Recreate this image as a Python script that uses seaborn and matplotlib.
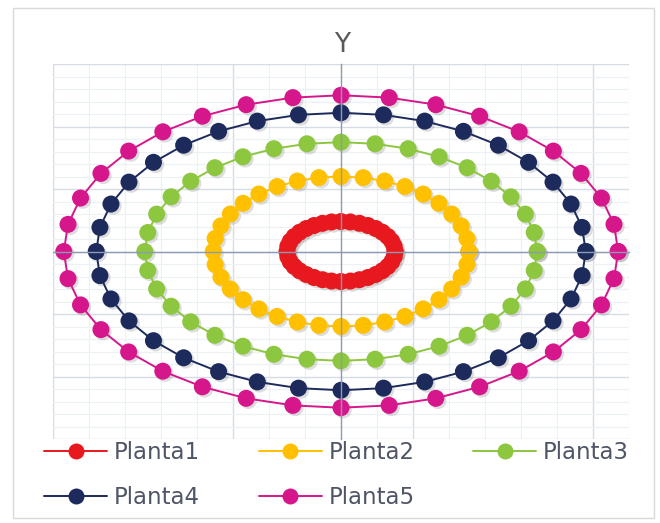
import numpy as np
import pandas as pd
import matplotlib
matplotlib.use("Agg")
import matplotlib.pyplot as plt
import matplotlib.patheffects as pe
from matplotlib.lines import Line2D
from matplotlib.patches import Rectangle
from matplotlib.ticker import MultipleLocator, FixedLocator
import seaborn as sns

# Series: one ellipse per plant, sampled every 10 degrees
SERIES = ["Planta1", "Planta2", "Planta3", "Planta4", "Planta5"]
SEMI_X = [1.5, 3.55, 5.45, 6.8, 7.7]
SEMI_Y = [2.4, 6.0, 8.75, 11.1, 12.5]
ANGLES_DEG = list(range(0, 361, 10))
COLORS = ["#E8191E", "#FFC000", "#8DC63F", "#1D2A5C", "#D6168B"]
TITLE = "Y"

rows = []
for name, a, b in zip(SERIES, SEMI_X, SEMI_Y):
    t = np.radians(ANGLES_DEG)
    for ti in t:
        rows.append({"serie": name, "x": a * np.cos(ti), "y": b * np.sin(ti)})
df = pd.DataFrame(rows)

sns.set_style("white")
plt.rcParams["font.family"] = ["DejaVu Sans"]
TEXT = "#4E5566"

W, H = 660, 523
fig = plt.figure(figsize=(W / 100, H / 100), dpi=100)
ax = fig.add_axes([53 / W, 1 - 439 / H, 576 / W, 375 / H])

ax.set_xlim(-8, 8)
ax.set_ylim(-15, 15)

# gridlines: major and minor
ax.xaxis.set_major_locator(FixedLocator([-8, -3, 2, 7]))
ax.xaxis.set_minor_locator(MultipleLocator(1))
ax.yaxis.set_major_locator(MultipleLocator(5))
ax.yaxis.set_minor_locator(MultipleLocator(1))
ax.grid(which="minor", color="#EDF0F5", linewidth=0.9)
ax.grid(which="major", color="#D5DCE6", linewidth=1.0)
ax.set_axisbelow(True)

shadow = [pe.SimplePatchShadow(offset=(1.6, -1.6), shadow_rgbFace="#7a7a7a", alpha=0.25), pe.Normal()]

for name, c in zip(SERIES, COLORS):
    sub = df[df["serie"] == name]
    sns.lineplot(data=sub, x="x", y="y", sort=False, estimator=None,
                 color=c, linewidth=1.4, ax=ax, legend=False)
    sc = sns.scatterplot(data=sub, x="x", y="y", color=c, s=150,
                         linewidth=0, ax=ax, legend=False)
    sc.collections[-1].set_path_effects(shadow)

# axes crossing at zero
for side in ["top", "right"]:
    ax.spines[side].set_visible(False)
ax.spines["left"].set_position(("data", 0))
ax.spines["bottom"].set_position(("data", 0))
ax.spines["left"].set_color("#8C9BB4")
ax.spines["bottom"].set_color("#8C9BB4")
ax.spines["left"].set_linewidth(1.0)
ax.spines["bottom"].set_linewidth(1.0)
ax.tick_params(axis="x", which="major", direction="out", length=5, color="#8C9BB4",
               labelbottom=False)
ax.tick_params(axis="y", which="major", direction="in", length=8, color="#8C9BB4",
               labelleft=False)
ax.tick_params(which="minor", length=0)
ax.set_xlabel("")
ax.set_ylabel("")

fig.text(342 / W, 1 - 45 / H, TITLE, ha="center", va="center",
         fontsize=19, color="#595959")

# legend laid out row by row: 3 entries on the first row, 2 on the second
order = [0, 3, 1, 4, 2]
handles = [Line2D([], [], color=COLORS[i], marker="o", markersize=11.5,
                  markeredgewidth=0, linewidth=1.4) for i in order]
labels = [SERIES[i] for i in order]
fig.legend(handles, labels, ncol=3, loc="center left",
           bbox_to_anchor=(35 / W, 1 - 475 / H), frameon=False,
           fontsize=16.5, labelcolor=TEXT, handlelength=2.75, handletextpad=0.3,
           columnspacing=2.55, labelspacing=0.95, borderaxespad=0)

fig.patches.append(Rectangle((13 / W, 1 - 518 / H), 641 / W, 510 / H,
                             transform=fig.transFigure, fill=False,
                             edgecolor="#D9D9D9", linewidth=1.0))

fig.savefig("out.png", dpi=100)
